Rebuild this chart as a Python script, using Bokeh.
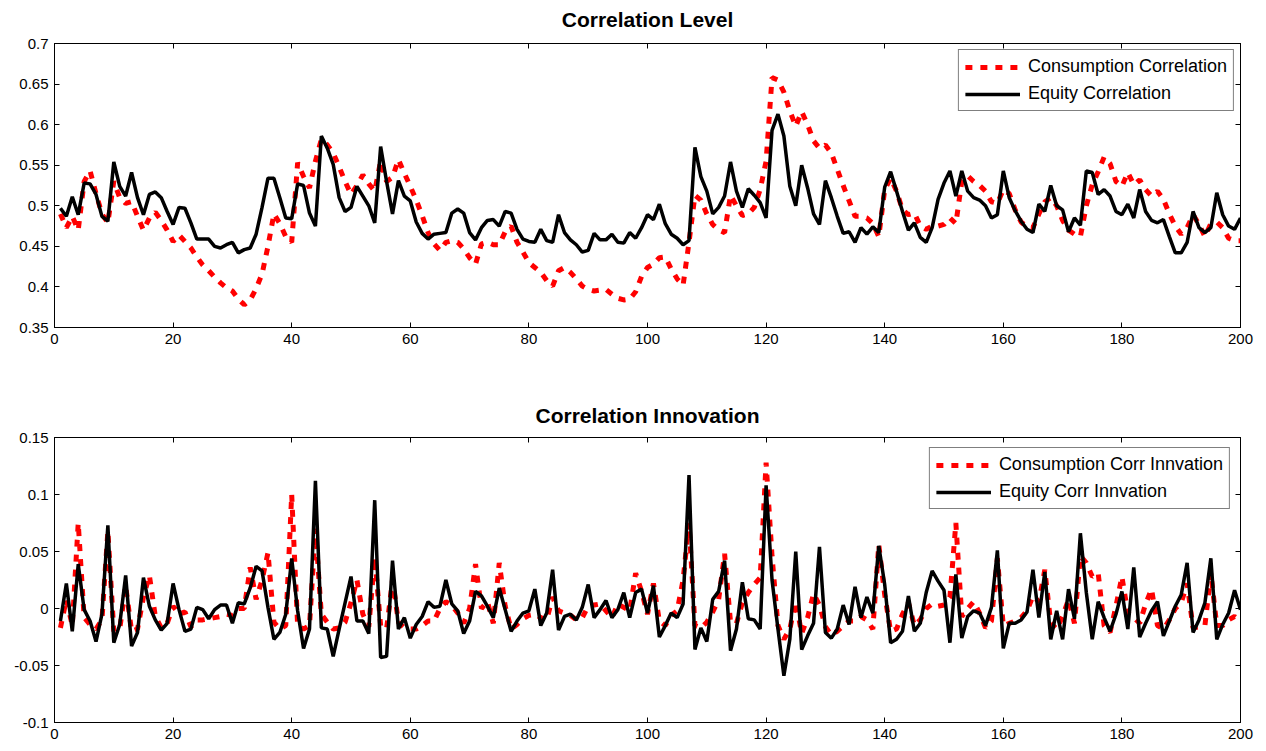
from bokeh.plotting import figure
from bokeh.layouts import column
from bokeh.models import (ColumnDataSource, Range1d, FixedTicker, LinearAxis,
                          Legend, LegendItem)
from bokeh.embed import file_html
from bokeh.resources import INLINE

# ---- data -------------------------------------------------------------
periods = list(range(1, 201))

consumption_level = [
    0.49, 0.473, 0.487, 0.47, 0.53, 0.543, 0.515, 0.49, 0.479, 0.53,
    0.51, 0.503, 0.505, 0.487, 0.47, 0.485, 0.492, 0.482, 0.47, 0.456,
    0.464, 0.456, 0.448, 0.437, 0.427, 0.42, 0.412, 0.405, 0.399, 0.395,
    0.385, 0.378, 0.384, 0.398, 0.416, 0.45, 0.49, 0.478, 0.462, 0.455,
    0.553, 0.536, 0.522, 0.555, 0.582, 0.575, 0.565, 0.548, 0.53, 0.514,
    0.525, 0.538, 0.527, 0.518, 0.555, 0.53, 0.535, 0.557, 0.54, 0.524,
    0.507, 0.488, 0.467, 0.453, 0.445, 0.455, 0.457, 0.455, 0.447, 0.436,
    0.428, 0.453, 0.455, 0.452, 0.452, 0.468, 0.475, 0.455, 0.443, 0.43,
    0.424, 0.418, 0.408, 0.401, 0.42, 0.424, 0.418, 0.41, 0.401, 0.397,
    0.395, 0.396, 0.397, 0.391, 0.386, 0.384, 0.385, 0.394, 0.413, 0.424,
    0.428, 0.436, 0.437, 0.422, 0.41, 0.402, 0.455, 0.513, 0.507, 0.49,
    0.477, 0.47, 0.467, 0.513, 0.5, 0.488, 0.49, 0.498, 0.52, 0.555,
    0.658, 0.655, 0.64, 0.617, 0.598, 0.616, 0.6, 0.58, 0.571, 0.575,
    0.565, 0.545, 0.525, 0.506, 0.487, 0.487, 0.485, 0.478, 0.462, 0.52,
    0.534, 0.518, 0.495, 0.489, 0.491, 0.475, 0.471, 0.475, 0.475, 0.477,
    0.485, 0.478, 0.53, 0.537, 0.53, 0.525, 0.518, 0.505, 0.503, 0.52,
    0.515, 0.495, 0.48, 0.474, 0.473, 0.49, 0.505, 0.51, 0.5, 0.482,
    0.47, 0.465, 0.462, 0.5, 0.526, 0.542, 0.56, 0.552, 0.53, 0.524,
    0.541, 0.526, 0.532, 0.52, 0.512, 0.518, 0.508, 0.49, 0.475, 0.465,
    0.473, 0.489, 0.477, 0.462, 0.478, 0.48, 0.473, 0.46, 0.457, 0.457,
]

equity_level = [
    0.497, 0.487, 0.511, 0.489, 0.528, 0.527, 0.514, 0.487, 0.481, 0.554,
    0.524, 0.512, 0.541, 0.51, 0.489, 0.514, 0.517, 0.51, 0.493, 0.477,
    0.498, 0.497, 0.479, 0.459, 0.459, 0.459, 0.45, 0.448, 0.452, 0.455,
    0.442, 0.446, 0.448, 0.465, 0.498, 0.534, 0.534, 0.51, 0.485, 0.484,
    0.527, 0.525, 0.491, 0.475, 0.586, 0.571, 0.551, 0.51, 0.493, 0.498,
    0.524, 0.512, 0.5, 0.479, 0.573, 0.53, 0.49, 0.531, 0.512, 0.506,
    0.48, 0.466, 0.459, 0.465, 0.466, 0.467, 0.491, 0.496, 0.491, 0.467,
    0.458, 0.473, 0.482, 0.483, 0.475, 0.493, 0.491, 0.471, 0.459, 0.456,
    0.455, 0.471, 0.457, 0.455, 0.489, 0.467, 0.458, 0.452, 0.443, 0.445,
    0.466, 0.458, 0.458, 0.465, 0.455, 0.454, 0.467, 0.46, 0.473, 0.489,
    0.483, 0.502, 0.478, 0.465, 0.46, 0.452, 0.457, 0.572, 0.536, 0.518,
    0.49, 0.498, 0.512, 0.554, 0.518, 0.498, 0.521, 0.513, 0.504, 0.485,
    0.593, 0.613, 0.586, 0.524, 0.5, 0.55, 0.522, 0.49, 0.477, 0.531,
    0.51, 0.487, 0.466, 0.468, 0.455, 0.473, 0.465, 0.474, 0.467, 0.523,
    0.542, 0.518, 0.493, 0.47, 0.479, 0.461, 0.455, 0.473, 0.508, 0.528,
    0.543, 0.512, 0.543, 0.518, 0.51, 0.507, 0.5, 0.485, 0.489, 0.543,
    0.51, 0.494, 0.481, 0.471, 0.467, 0.502, 0.493, 0.525, 0.5, 0.495,
    0.468, 0.485, 0.476, 0.543, 0.541, 0.514, 0.52, 0.512, 0.493, 0.489,
    0.502, 0.485, 0.52, 0.493, 0.482, 0.479, 0.483, 0.462, 0.442, 0.442,
    0.455, 0.493, 0.473, 0.467, 0.473, 0.516, 0.489, 0.475, 0.471, 0.485,
]

consumption_innov = [
    -0.017, 0.008, -0.015, 0.075, -0.008, -0.014, -0.018, -0.01, 0.068, -0.02,
    -0.018, 0.02, -0.02, -0.018, 0.01, 0.029, -0.007, -0.017, -0.013, 0.002,
    -0.005, -0.003, -0.016, -0.01, -0.01, -0.009, -0.008, -0.007, -0.005, -0.006,
    0.0, 0.0, 0.036, 0.008, 0.025, 0.049, -0.012, -0.018, -0.015, 0.1,
    -0.015, -0.018, -0.015, 0.07, -0.005, -0.012, -0.018, -0.017, -0.012, 0.005,
    0.025, -0.005, -0.016, 0.045, -0.015, -0.018, 0.025, -0.012, -0.017, -0.018,
    -0.018, -0.015, -0.011, -0.011, 0.0, 0.006, 0.003, -0.004, -0.013, 0.0,
    0.039, 0.0, 0.006, -0.013, 0.04, 0.002, -0.018, -0.014, -0.009, -0.006,
    -0.005, -0.008, -0.01, 0.01, -0.002, -0.004, -0.006, -0.01, -0.008, 0.002,
    0.003, 0.004, -0.002, -0.008, 0.004, 0.001, -0.002, 0.031, 0.015, -0.005,
    0.022, -0.011, -0.015, -0.006, -0.002, 0.025, 0.075, -0.015, -0.017, -0.012,
    -0.003, 0.008, 0.048, -0.012, -0.013, 0.005, 0.014, 0.021, 0.027, 0.128,
    0.046, -0.015, -0.027, -0.018, 0.006, -0.022, -0.008, 0.013, 0.003, -0.016,
    -0.023, -0.02, -0.015, -0.011, -0.011, -0.007, -0.01, -0.018, 0.056, 0.012,
    -0.02, -0.018, -0.005, 0.005, -0.015, -0.01, 0.0, 0.004, 0.002, 0.003,
    0.01, 0.075, -0.007, 0.0, 0.006, -0.004, -0.017, -0.011, 0.044, -0.015,
    -0.013, -0.011, -0.008, -0.002, 0.011, 0.006, 0.034, -0.013, -0.018, -0.007,
    0.008, -0.013, 0.046, 0.04, 0.028, 0.031, -0.015, -0.021, 0.002, 0.028,
    -0.004, -0.008, -0.013, 0.004, 0.017, -0.015, -0.018, -0.01, 0.0, 0.005,
    0.022, -0.017, -0.016, -0.015, 0.031, -0.015, -0.015, -0.01, -0.007, -0.011,
]

equity_innov = [
    -0.011, 0.022, -0.02, 0.039, -0.001, -0.011, -0.029, -0.005, 0.073, -0.03,
    -0.014, 0.029, -0.033, -0.021, 0.027, 0.002, -0.01, -0.019, -0.013, 0.022,
    -0.001, -0.02, -0.018, 0.001, -0.001, -0.009, -0.001, 0.003, 0.003, -0.013,
    0.005, 0.004, 0.018, 0.037, 0.033, 0.001, -0.027, -0.021, -0.005, 0.044,
    -0.002, -0.035, -0.018, 0.112, -0.017, -0.018, -0.042, -0.018, 0.005, 0.028,
    -0.011, -0.011, -0.022, 0.095, -0.043, -0.042, 0.042, -0.018, -0.008, -0.026,
    -0.014, -0.007, 0.006, 0.001, 0.002, 0.025, 0.004, -0.002, -0.022, -0.011,
    0.015, 0.011, 0.002, -0.008, 0.018, -0.001, -0.02, -0.011, -0.004, -0.002,
    0.017, -0.015, -0.004, 0.034, -0.019, -0.007, -0.005, -0.01, 0.001, 0.021,
    -0.008, -0.001, 0.007, -0.008, -0.001, 0.014, -0.008, 0.014, 0.017, -0.004,
    0.02, -0.025, -0.015, -0.004, -0.008, 0.004, 0.117, -0.036, -0.017, -0.029,
    0.008, 0.015, 0.042, -0.037, -0.018, 0.023, -0.009, -0.01, -0.018, 0.108,
    0.025, -0.018, -0.059, -0.027, 0.05, -0.036, -0.024, -0.013, 0.054, -0.021,
    -0.026, -0.018, 0.003, -0.014, 0.019, -0.008, 0.01, -0.004, 0.055, 0.021,
    -0.03, -0.027, -0.02, 0.011, -0.02, -0.013, 0.014, 0.033, 0.024, 0.016,
    -0.03, 0.03, -0.026, -0.007, -0.002, -0.004, -0.015, 0.001, 0.051, -0.035,
    -0.013, -0.013, -0.01, -0.003, 0.034, -0.008, 0.032, -0.027, -0.002, -0.027,
    0.017, -0.009, 0.066, 0.014, -0.027, 0.006, -0.008, -0.02, -0.005, 0.015,
    -0.018, 0.036, -0.025, -0.013, -0.002, 0.006, -0.024, -0.011, 0.002, 0.012,
    0.04, -0.021, -0.01, 0.005, 0.044, -0.027, -0.014, -0.004, 0.016, -0.001,
]

x_ticks = list(range(0, 201, 20))
level_ticks = [0.35, 0.4, 0.45, 0.5, 0.55, 0.6, 0.65, 0.7]
level_labels = ["0.35", "0.4", "0.45", "0.5", "0.55", "0.6", "0.65", "0.7"]
innov_ticks = [-0.1, -0.05, 0.0, 0.05, 0.1, 0.15]
innov_labels = ["-0.1", "-0.05", "0", "0.05", "0.1", "0.15"]

FONT = "Liberation Sans"
RED = "#ff0000"


def tick_only_axis(ticks):
    """An axis that only draws inward ticks along the box edge (no labels)."""
    return LinearAxis(ticker=FixedTicker(ticks=ticks),
                      major_label_text_color=None, major_label_text_font_size="1px",
                      major_label_standoff=0,
                      major_tick_in=5, major_tick_out=0,
                      minor_tick_line_color=None, axis_line_color="black")


def boxed_axes(p, yticks, ylabels, title_standoff):
    """Ticks pointing inward on all four sides, like a closed axes box."""
    p.xaxis.ticker = FixedTicker(ticks=x_ticks)
    p.yaxis.ticker = FixedTicker(ticks=yticks)
    p.yaxis.major_label_overrides = {t: s for t, s in zip(yticks, ylabels)}
    p.xaxis.major_label_overrides = {t: str(t) for t in x_ticks}
    for ax in (p.xaxis[0], p.yaxis[0]):
        ax.major_tick_in = 5
        ax.major_tick_out = 0
        ax.minor_tick_line_color = None
        ax.axis_line_color = "black"
        ax.major_tick_line_color = "black"
        ax.major_label_text_font = FONT
        ax.major_label_text_font_size = "15px"
        ax.major_label_text_color = "black"
        ax.major_label_standoff = 6
    p.add_layout(tick_only_axis(x_ticks), "above")
    p.add_layout(tick_only_axis(yticks), "right")
    p.xgrid.visible = False
    p.ygrid.visible = False
    p.outline_line_color = "black"
    p.title.text_font = FONT
    p.title.text_font_size = "21px"
    p.title.text_font_style = "bold"
    p.title.align = "center"
    p.title.text_color = "black"
    p.title.standoff = title_standoff


def make_panel(title, y_range, yticks, ylabels, red_vals, black_vals,
               red_label, black_label, height, top_border, bottom_border,
               legend_margin, title_standoff):
    p = figure(width=1266, height=height, title=title,
               x_range=Range1d(0, 200), y_range=Range1d(*y_range),
               output_backend="svg", toolbar_location=None,
               min_border_left=54, min_border_right=26,
               min_border_top=top_border, min_border_bottom=bottom_border,
               background_fill_color="white", border_fill_color="white")
    src = ColumnDataSource(dict(t=periods, red=red_vals, black=black_vals))
    r1 = p.line("t", "red", source=src, line_color=RED, line_width=5,
                line_dash="7 8")
    r2 = p.line("t", "black", source=src, line_color="black", line_width=3.5)
    boxed_axes(p, yticks, ylabels, title_standoff)
    legend = Legend(items=[LegendItem(label=red_label, renderers=[r1]),
                           LegendItem(label=black_label, renderers=[r2])],
                    location="top_right", label_text_font=FONT,
                    label_text_font_size="18px", label_text_color="black",
                    glyph_width=55, glyph_height=20, label_standoff=8,
                    padding=6, spacing=6, margin=legend_margin,
                    border_line_color="black", border_line_width=1,
                    background_fill_alpha=1.0)
    p.add_layout(legend, "center")
    return p


# The title of the upper panel needs more room than the 43px top border, so
# that figure is made taller and pulled up by the same amount.
LIFT = 7
p_level = make_panel("Correlation Level", (0.35, 0.7), level_ticks, level_labels,
                     consumption_level, equity_level,
                     "Consumption Correlation", "Equity Correlation",
                     376 + LIFT, 43 + LIFT, 49, 6, 25)
p_level.margin = (-LIFT, 0, 0, 0)
p_innov = make_panel("Correlation Innovation", (-0.1, 0.15), innov_ticks,
                     innov_labels, consumption_innov, equity_innov,
                     "Consumption Corr Innvation", "Equity Corr Innvation",
                     375, 61, 29, 10, 21)

layout = column(p_level, p_innov, spacing=0)
open("out.html", "w").write(file_html(layout, INLINE))
